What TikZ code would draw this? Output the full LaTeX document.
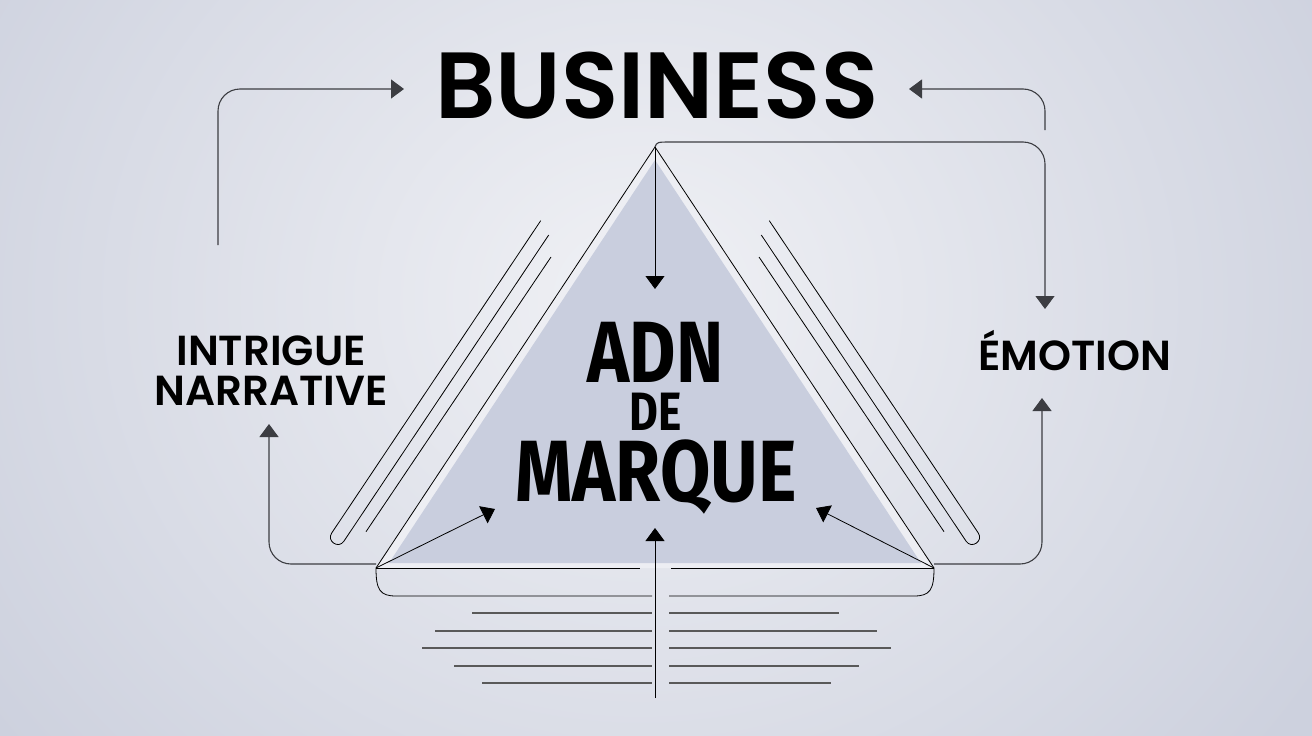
\documentclass[tikz,border=0pt]{standalone}
\usepackage{fontspec}
\usepackage{tikz}
\usetikzlibrary{arrows.meta}
\usepackage{xcolor}

\newfontfamily\geofont{Poppins}[UprightFont=* SemiBold]
\newfontfamily\condfont{Fira Sans}[UprightFont=* Bold]

\definecolor{bgin}{HTML}{F0F1F5}
\definecolor{bgout}{HTML}{CDD1DE}
\definecolor{trifill}{HTML}{C9CEDE}
\definecolor{band}{HTML}{EDEEF3}
\definecolor{linkgray}{HTML}{3C3D42}

\begin{document}
\begin{tikzpicture}[x=1pt,y=-1pt,
  link/.style={draw=linkgray,line width=1.1pt,rounded corners=22pt},
  head/.style={-{Triangle[width=19pt,length=13pt]}},
  fine/.style={draw=black,line width=0.8pt},
  rule/.style={draw=black!65,line width=1.4pt},
  big/.style={anchor=base,inner sep=0pt,font=\geofont\fontsize{94}{94}\selectfont},
  side/.style={anchor=base,inner sep=0pt,font=\geofont\fontsize{42}{42}\selectfont},
  core/.style={anchor=base,inner sep=0pt,text depth=0pt}]

\useasboundingbox (0,0) rectangle (1312,736);
\shade[inner color=bgin,outer color=bgout] (-160,-420) rectangle (1440,1020);

% triangle
\coordinate (apex) at (655,147);
\coordinate (lc) at (376,568);
\coordinate (rc) at (934,568);
\fill[band] (apex) -- (lc) -- (rc) -- cycle;
\fill[trifill] (655,160) -- (389,563) -- (921,563) -- cycle;
\draw[fine] (lc) -- (apex) -- (rc);

% base and lines under it
\draw[fine] (lc) -- (640,568);
\draw[fine] (671,568) -- (rc);
\draw[fine] (lc) .. controls (376,590) and (380,596) .. (396,596) -- (652,596);
\draw[fine] (rc) .. controls (934,590) and (930,596) .. (914,596) -- (669,596);
\foreach \y/\a/\b in {613/472/839, 631/435/877, 648/422/891, 666/454/859, 683/482/831}{
  \draw[rule] (\a,\y) -- (652,\y);
  \draw[rule] (669,\y) -- (\b,\y);
}

% side strokes, left then mirrored
\foreach \m in {0,1}{
\begin{scope}[xshift=\m*1310pt,xscale=1-2*\m]
  \draw[fine] (540.7,220.7) -- (331.7,533) .. controls (326.3,541.1) and (338.5,549.3) .. (343.9,541.2) -- (548.7,235);
  \draw[fine] (551,257) -- (366,531.7);
\end{scope}
}

% texts
\node[big] (business) at (657,118) {BUSINESS};
\node[side] (intrigue) at (271,365) {INTRIGUE};
\node[side] (narrative) at (271,405) {NARRATIVE};
\node[side] (emotion) at (1074.5,370.7) {ÉMOTION};
\node[core,text height=60pt,font=\condfont\fontsize{87}{87}\selectfont] (adn) at (655.5,382.7) {\scalebox{0.82}[1]{ADN}};
\node[core,text height=37pt,font=\condfont\fontsize{54}{54}\selectfont] (de) at (655.3,430.7) {\scalebox{0.82}[1]{DE}};
\node[core,text height=60pt,font=\condfont\fontsize{87}{87}\selectfont] (marque) at (656,501.7) {\scalebox{0.84}[1]{MARQUE}};

% free ends
\coordinate (tl) at (218,245);
\coordinate (busl) at (404,89);
\coordinate (tr) at (1045,130);
\coordinate (busr) at (909,89);
\coordinate (emotop) at (1045,309);
\coordinate (lcl) at (376,564);
\coordinate (intr) at (269,424);
\coordinate (rcl) at (934,564);
\coordinate (emobot) at (1042,398);
\coordinate (inl) at (495,509);
\coordinate (inr) at (816,508);
\coordinate (apexin) at (655,289);
\coordinate (foot) at (655,698);
\coordinate (footin) at (655,528);

% connectors
\draw[link,head] (tl) |- (busl);
\draw[link,head] (tr) |- (busr);
\draw[link,head] (apex) [sharp corners] .. controls (657,142) .. (672,142) [rounded corners=22pt] -| (emotop);
\draw[link,head] (lcl) -| (intr);
\draw[link,head] (rcl) -| (emobot);
\draw[fine,head] (lc) -- (inl);
\draw[fine,head] (rc) -- (inr);
\draw[fine,head] (apex) -- (apexin);
\draw[fine,head] (foot) -- (footin);

\end{tikzpicture}
\end{document}
